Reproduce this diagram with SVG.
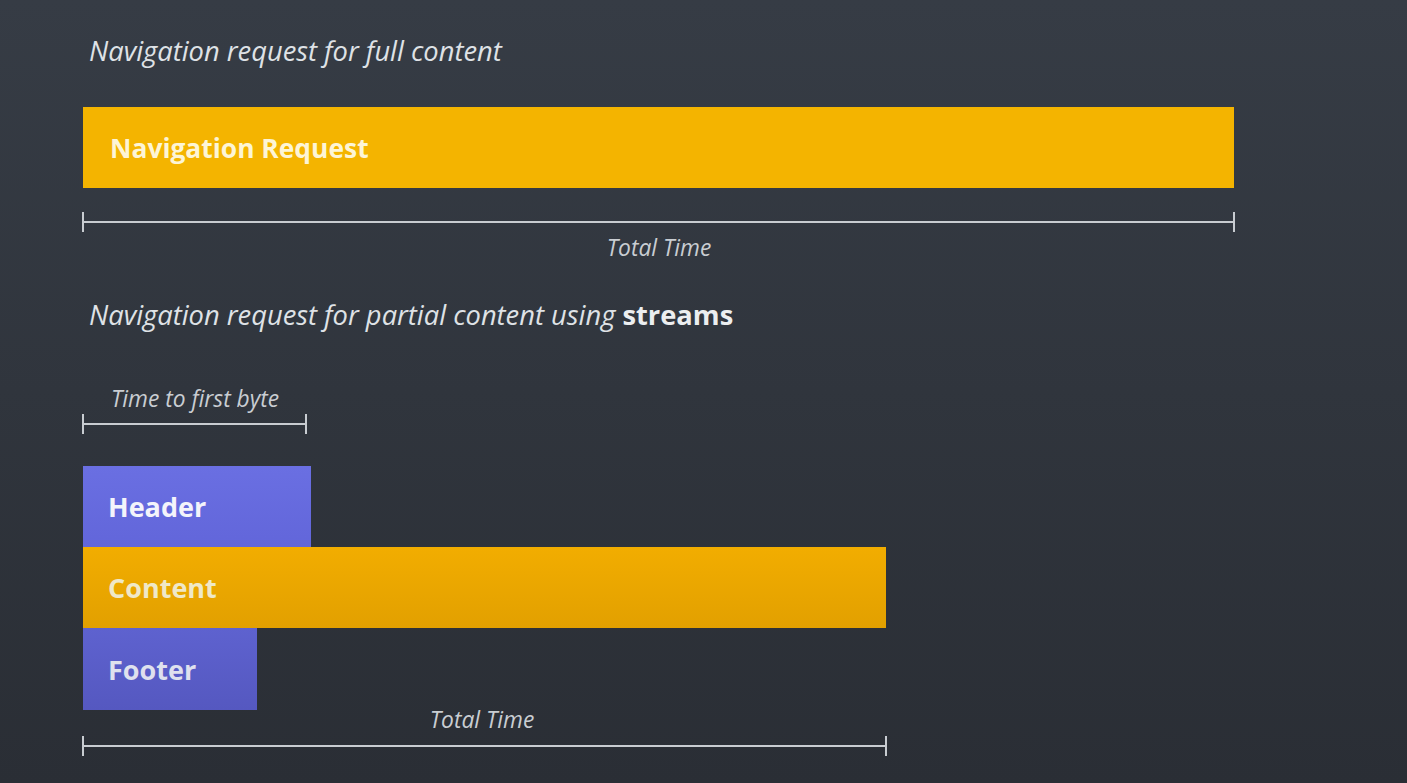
<svg xmlns="http://www.w3.org/2000/svg" width="1407" height="783" viewBox="0 0 1407 783">
<defs>
<linearGradient id="bg" x1="0" y1="0" x2="0" y2="1"><stop offset="0" stop-color="#363c45"/><stop offset="1" stop-color="#2a2e35"/></linearGradient>
<linearGradient id="gy" x1="0" y1="0" x2="0" y2="1"><stop offset="0" stop-color="#f2ad00"/><stop offset="1" stop-color="#e2a000"/></linearGradient>
<linearGradient id="gh" x1="0" y1="0" x2="0" y2="1"><stop offset="0" stop-color="#6a6fe2"/><stop offset="1" stop-color="#6266da"/></linearGradient>
<linearGradient id="gf" x1="0" y1="0" x2="0" y2="1"><stop offset="0" stop-color="#5e62cf"/><stop offset="1" stop-color="#5558c0"/></linearGradient>
</defs>
<style>
.it{font-family:"Open Sans","DejaVu Sans",sans-serif;font-style:italic;fill:#dfe2e6;font-size:27.3px}
.lbl{font-family:"Open Sans","DejaVu Sans",sans-serif;font-style:italic;fill:#c9cdd2;font-size:22.8px}
.bd{font-family:"Open Sans","DejaVu Sans",sans-serif;font-weight:bold;font-size:27px}
.bd.sm{font-size:26.4px}
.ln{stroke:#c8ccd1;stroke-width:2;fill:none}
</style>
<rect width="1407" height="783" fill="url(#bg)"/>
<text class="it" x="89" y="61">Navigation request for full content</text>
<g id="nav-request">
<rect x="83" y="107" width="1151" height="81" fill="#f4b400"/>
<text class="bd sm" x="110" y="158" fill="#fdf5d6">Navigation Request</text>
</g>
<g id="connectors">
<path class="ln" d="M83 222H1234M83 212V232M1234 212V232"/>
<path class="ln" d="M83 424H306M83 414V434M306 414V434"/>
<path class="ln" d="M83 746H886M83 736V756M886 736V756"/>
</g>
<text class="lbl" x="659" y="256" text-anchor="middle">Total Time</text>
<text class="it" x="89" y="325">Navigation request for partial content using <tspan font-style="normal" font-weight="bold" fill="#eceef0">streams</tspan></text>
<text class="lbl" x="195" y="407" text-anchor="middle">Time to first byte</text>
<g id="header">
<rect x="83" y="466" width="228" height="81" fill="url(#gh)"/>
<text class="bd" x="108" y="517" fill="#f4f4fb">Header</text>
</g>
<g id="content">
<rect x="83" y="547" width="803" height="81" fill="url(#gy)"/>
<text class="bd" x="108" y="598" fill="#efe8c8">Content</text>
</g>
<g id="footer">
<rect x="83" y="628" width="174" height="82" fill="url(#gf)"/>
<text class="bd" x="108" y="680" fill="#dfe1ee">Footer</text>
</g>
<text class="lbl" x="482" y="728" text-anchor="middle">Total Time</text>
</svg>
